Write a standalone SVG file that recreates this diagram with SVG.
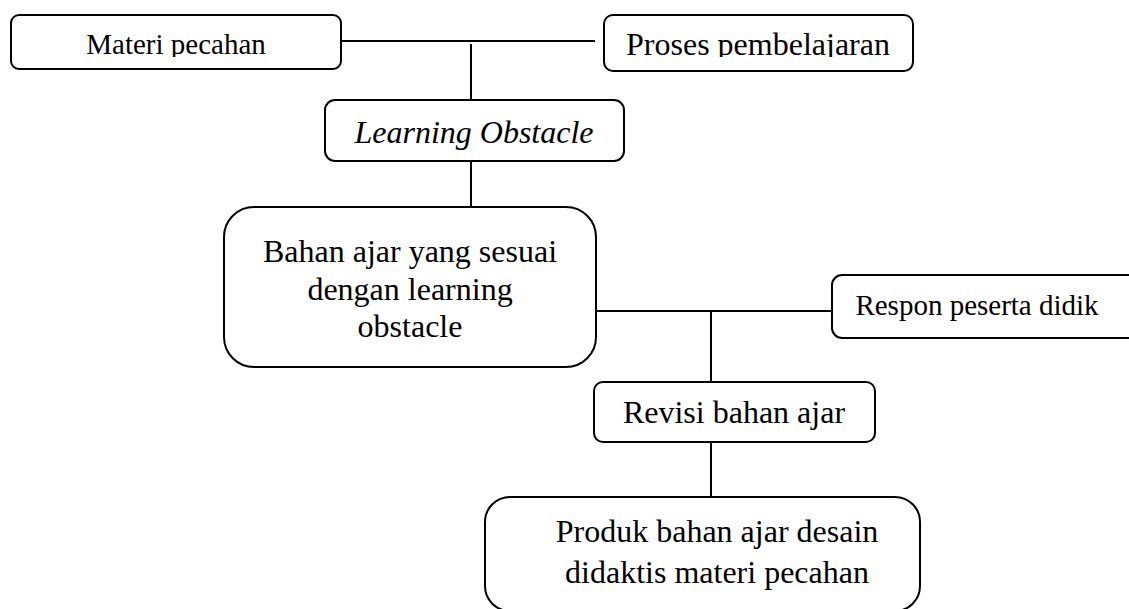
<svg xmlns="http://www.w3.org/2000/svg" width="1129" height="609" viewBox="0 0 1129 609">
<style>
.box{fill:#fff;stroke:#000;stroke-width:2}
.ln{stroke:#000;stroke-width:2;fill:none}
text{font-family:"Liberation Serif","Times New Roman",serif;fill:#000;text-anchor:middle}
.t32{font-size:32px}
.t29{font-size:29px}
</style>
<defs>
<clipPath id="c1"><rect x="11" y="15" width="330" height="42"/></clipPath>
<clipPath id="c2"><rect x="604" y="15" width="309" height="42"/></clipPath>
</defs>
<rect width="1129" height="609" fill="#fff"/>
<g id="connectors">
<line class="ln" x1="341" y1="41" x2="595" y2="41"/>
<line class="ln" x1="471" y1="44" x2="471" y2="100"/>
<line class="ln" x1="471" y1="161" x2="471" y2="207"/>
<line class="ln" x1="596" y1="311" x2="832" y2="311"/>
<line class="ln" x1="711" y1="311" x2="711" y2="382"/>
<line class="ln" x1="711" y1="442" x2="711" y2="497"/>
</g>
<g id="materi">
<rect class="box" x="11" y="15" width="330" height="54" rx="8"/>
<text class="t29" x="176" y="54" clip-path="url(#c1)">Materi pecahan</text>
</g>
<g id="proses">
<rect class="box" x="604" y="15" width="309" height="56" rx="9"/>
<text class="t32" x="758" y="55" clip-path="url(#c2)">Proses pembelajaran</text>
</g>
<g id="learning">
<rect class="box" x="325" y="100" width="299" height="61" rx="10"/>
<text class="t32" x="474" y="143" font-style="italic">Learning Obstacle</text>
</g>
<g id="bahan">
<rect class="box" x="224" y="207" width="372" height="160" rx="30"/>
<text class="t32" x="410" y="262">Bahan ajar yang sesuai</text>
<text class="t32" x="410" y="300">dengan learning</text>
<text class="t32" x="410" y="337">obstacle</text>
</g>
<g id="respon">
<rect class="box" x="832" y="275" width="310" height="63" rx="10"/>
<text class="t29" x="977" y="315">Respon peserta didik</text>
</g>
<g id="revisi">
<rect class="box" x="594" y="382" width="281" height="60" rx="9"/>
<text class="t32" x="734" y="423">Revisi bahan ajar</text>
</g>
<g id="produk">
<rect class="box" x="485" y="497" width="435" height="114" rx="25"/>
<text class="t32" x="717" y="542">Produk bahan ajar desain</text>
<text class="t32" x="717" y="583">didaktis materi pecahan</text>
</g>
</svg>
